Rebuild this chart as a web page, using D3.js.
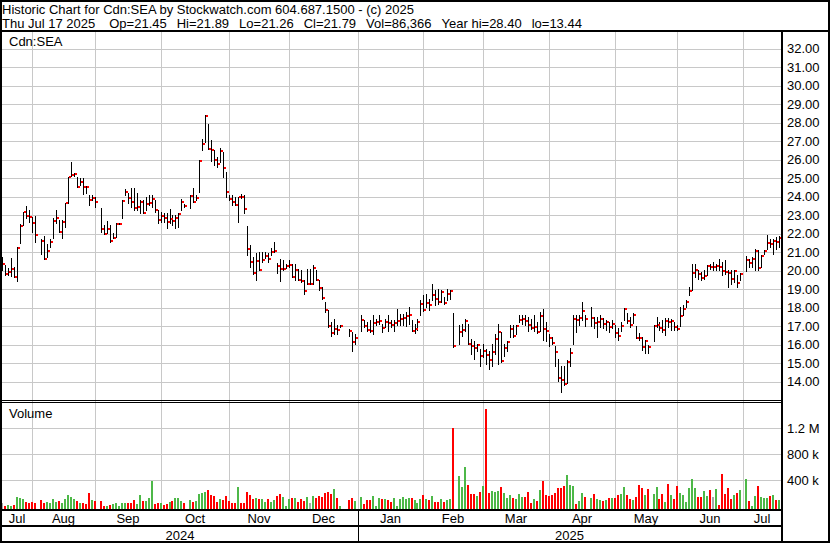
<!DOCTYPE html>
<html>
<head>
<meta charset="utf-8">
<script src="https://cdn.jsdelivr.net/npm/d3@7"></script>
<style>
  body { margin: 0; background: #fff; }
  svg { display: block; font-family: "Liberation Sans", Arial, sans-serif; }
</style>
</head>
<body>
<svg id="chart" width="830" height="543"></svg>
<script>
// ---- data (one slot per weekday, Jul 18 2024 .. Jul 17 2025, null = no trade) ----
const symbol = "Cdn:SEA";
const lastDate = "Thu Jul 17 2025";
const lastOpen = 21.45;

const hi = [
  20.77, 20.32, 20.14, 20.68, 20.23, 21.31, 22.53, 23.20, 23.50, 23.29,
  22.93, 22.96, null, 21.70, 21.88, 21.45, 21.70, 22.84, 23.29, 22.75,
  22.75, 23.68, 25.05, 25.88, 25.31, 25.05, 25.00, 25.00, 24.59, 24.10,
  24.10, 24.01, null, 23.40, 22.48, 22.69, 22.48, 22.03, 22.57, 22.60,
  23.83, 24.41, 24.19, 24.46, 24.46, 24.19, 23.83, 23.83, 24.01, 24.10,
  24.10, 23.83, 23.29, 23.20, 23.11, 23.11, 23.34, 23.02, 23.02, 23.11,
  23.86, 23.61, null, 24.10, 24.46, 24.10, 25.99, 27.11, 28.40, 27.94,
  27.07, 26.53, 26.17, 26.62, 26.44, 25.36, 24.10, 24.10, 24.01, 24.01,
  24.14, 24.10, 22.42, 21.40, 20.77, 20.95, 21.04, 21.04, 21.04, 20.98,
  21.22, 21.58, 20.41, 20.65, 20.56, 20.38, 20.59, 20.38, 20.38, 20.11,
  20.02, 19.48, 20.11, 20.11, 20.29, 20.05, 19.48, 19.12, 18.31, 17.86,
  17.23, 17.41, 17.05, 17.08, null, null, 16.86, 16.68, 16.56, null,
  17.59, 17.32, 17.23, 17.32, 17.59, 17.41, 17.59, 17.14, 17.41, 17.59,
  17.35, 17.32, 17.95, 17.68, 17.68, 17.77, 18.04, 17.32, 17.14, 17.41,
  18.40, 18.67, 18.76, 18.49, 19.30, 18.94, 19.03, 18.94, 18.58, 19.03,
  18.94, 17.71, null, 17.05, 17.14, 17.41, 17.14, 16.32, 16.23, 16.05,
  15.78, 16.05, 15.78, 15.69, 16.05, 16.59, 17.14, 16.68, 16.05, 16.23,
  17.05, 17.05, 17.05, 17.59, 17.59, 17.59, 17.50, 17.41, 17.59, 17.23,
  17.77, 17.95, 17.23, 16.59, 16.41, 15.96, 15.24, 14.83, 14.83, 15.18,
  15.81, 17.61, 17.61, 17.61, 18.32, 17.61, null, 18.02, 17.52, 17.52,
  17.61, 17.43, 17.34, 17.25, 17.34, 17.07, 16.89, 17.25, 18.00, 17.70,
  17.52, 17.70, 17.01, 16.62, 16.44, 16.26, 15.99, null, 17.07, 17.48,
  17.25, 17.34, 17.43, 17.43, 17.37, 17.25, 17.07, 18.05, 18.14, 18.41,
  19.13, 20.39, 20.39, 20.03, 19.94, 20.03, 20.30, 20.39, 20.48, 20.39,
  20.65, 20.48, 20.60, 20.03, 20.03, 20.03, 19.76, 19.88, null, 20.78,
  20.65, 20.74, 21.19, 21.14, 20.83, 21.10, 21.91, 21.73, 21.73, 21.82,
  21.89
];

const lo = [
  20.05, 19.78, 19.78, 19.72, 19.68, 19.47, 21.52, 22.48, 22.84, 22.66,
  22.12, 21.58, null, 20.91, 20.62, 20.77, 21.31, 21.76, 22.57, 22.12,
  21.76, 22.39, 23.68, 25.13, 25.13, 24.51, 24.64, 24.15, 24.19, 23.56,
  23.83, 23.47, null, 22.12, 22.01, 22.03, 21.58, 21.76, 21.85, 22.53,
  22.87, 24.10, 23.65, 23.47, 23.29, 23.29, 23.11, 23.11, 23.29, 23.56,
  23.47, 23.20, 22.57, 22.66, 22.66, 22.30, 22.57, 22.48, 22.33, 22.35,
  23.29, 23.43, null, 23.38, 23.74, 23.83, 24.28, 26.50, 26.98, 26.58,
  25.95, 25.72, 25.59, 25.90, 25.09, 24.01, 23.83, 23.56, 23.56, 22.66,
  23.95, 23.14, 20.86, 20.23, 19.83, 19.50, 20.05, 20.50, 20.68, 20.50,
  20.86, 21.04, 19.87, 19.44, 20.05, 20.16, 20.20, 19.66, 19.48, 19.48,
  19.39, 18.76, 19.30, 19.26, 19.30, 19.48, 18.94, 18.49, 17.77, 16.95,
  16.50, 16.59, 16.59, 16.95, null, null, 16.50, 15.69, 16.05, null,
  16.77, 16.95, 16.77, 16.68, 16.59, 17.08, 17.14, 16.68, 16.95, 16.77,
  16.95, 16.77, 17.05, 17.05, 17.05, 16.99, 17.14, 16.77, 16.63, 16.81,
  17.59, 17.82, 18.04, 17.86, 18.40, 18.13, 18.22, 18.31, 18.22, 18.40,
  18.49, 15.87, null, 16.05, 16.50, 16.77, 16.05, 15.51, 15.24, 15.69,
  14.88, 15.33, 14.97, 14.70, 14.88, 15.51, 14.97, 15.06, 15.42, 15.69,
  16.41, 16.41, 16.59, 17.23, 17.14, 17.05, 16.77, 16.86, 16.77, 16.63,
  16.77, 16.27, 16.23, 15.96, 16.05, 14.88, 14.07, 13.44, 13.84, 13.93,
  14.83, 16.04, 16.71, 17.07, 17.34, 17.01, null, 17.01, 16.89, 16.40,
  16.98, 16.89, 16.80, 16.71, 16.89, 16.44, 16.26, 16.76, 17.34, 17.16,
  16.98, 17.16, 16.35, 16.26, 15.72, 15.58, 15.58, null, 16.22, 16.94,
  16.80, 16.71, 16.53, 16.98, 16.80, 16.80, 16.80, 17.01, 17.61, 18.05,
  18.68, 18.95, 19.67, 19.58, 19.52, 19.58, 19.76, 20.12, 20.03, 20.03,
  20.06, 19.76, 19.85, 19.13, 19.31, 19.40, 19.13, 19.49, null, 19.99,
  20.21, 20.21, 20.03, 20.06, 20.21, 20.92, 21.19, 21.28, 20.92, 21.19,
  21.26
];

const cl = [
  20.37, 19.85, 19.95, 20.10, 19.68, 21.25, 22.44, 23.20, 22.98, 22.91,
  22.60, 21.95, null, 21.63, 20.66, 21.09, 21.58, 22.71, 22.87, 22.12,
  22.66, 23.68, 25.04, 25.20, 25.25, 24.55, 24.78, 24.55, 24.50, 23.85,
  23.95, 23.74, null, 22.28, 22.01, 22.23, 21.61, 21.79, 22.53, 22.55,
  23.79, 24.23, 23.95, 23.74, 23.38, 23.45, 23.74, 23.14, 23.61, 23.68,
  23.90, 23.29, 22.77, 22.96, 22.86, 22.64, 22.78, 22.69, 22.84, 23.09,
  23.74, 23.50, null, 24.06, 23.74, 23.95, 25.95, 26.84, 28.38, 26.60,
  26.53, 25.99, 25.79, 26.48, 25.58, 24.28, 23.90, 23.74, 23.58, 24.00,
  23.98, 23.36, 21.20, 20.48, 19.90, 20.55, 20.05, 20.59, 20.80, 20.66,
  21.04, 21.09, 20.28, 20.07, 20.11, 20.25, 20.32, 19.66, 20.05, 19.48,
  19.42, 18.88, 19.30, 19.30, 20.14, 19.48, 19.06, 18.52, 17.89, 17.01,
  16.63, 16.86, 16.80, 17.01, null, null, 16.74, 16.13, 16.36, null,
  17.32, 16.99, 16.81, 16.77, 17.17, 17.21, 17.28, 16.90, 17.23, 17.18,
  17.05, 17.17, 17.26, 17.41, 17.46, 17.53, 17.59, 16.77, 16.83, 17.23,
  18.18, 17.86, 18.25, 18.13, 18.67, 18.45, 18.31, 18.83, 18.27, 18.72,
  18.88, 15.96, null, 16.68, 16.81, 17.26, 16.05, 15.95, 15.82, 16.00,
  15.42, 15.66, 15.46, 15.19, 15.60, 16.32, 16.68, 15.12, 15.82, 16.14,
  16.83, 16.45, 17.01, 17.32, 17.40, 17.30, 17.08, 16.90, 16.95, 16.68,
  17.55, 16.83, 16.77, 16.36, 16.09, 15.60, 14.20, 14.09, 13.89, 15.09,
  15.58, 17.37, 17.34, 17.46, 17.84, 17.37, null, 17.46, 17.19, 17.25,
  17.37, 17.10, 17.25, 16.98, 17.12, 16.65, 16.48, 17.01, 17.93, 17.30,
  17.07, 17.61, 16.39, 16.35, 15.90, 16.22, 15.90, null, 17.01, 17.07,
  16.89, 16.80, 17.30, 17.22, 17.30, 16.95, 16.85, 17.55, 17.91, 18.32,
  18.91, 19.88, 20.06, 19.81, 19.61, 19.70, 20.28, 20.20, 20.20, 20.25,
  20.20, 19.99, 19.95, 19.90, 19.58, 19.99, 19.36, 19.81, null, 20.60,
  20.42, 20.62, 21.07, 20.15, 20.78, 21.07, 21.50, 21.43, 21.61, 21.55,
  21.79
];

// volume, thousands of shares
const vol = [
  51, 5, 21, 5, 21, 144, 128, 113, 67, 51,
  67, 51, null, 97, 51, 67, 51, 113, 67, 82,
  51, 113, 174, 144, 113, 82, 51, 51, 36, 205,
  97, 82, null, 82, 5, 5, 21, 36, 51, 5,
  51, 51, 51, 51, 97, 36, 174, 82, 82, 128,
  390, 36, 51, 51, 21, 36, 67, 82, 128, 128,
  82, 51, null, 97, 67, 82, 190, 205, 220, 251,
  174, 159, 67, 113, 97, 159, 82, 51, 51, 297,
  51, 51, 220, 174, 113, 128, 113, 113, 67, 113,
  67, 97, 159, 190, 144, 3, 113, 128, 128, 67,
  113, 82, 144, 51, 159, 128, 159, 144, 205, 220,
  190, 267, 128, 5, null, null, 97, 128, 82, null,
  144, 36, 97, 97, 159, 5, 128, 113, 113, 97,
  67, 128, 3, 113, 144, 113, 128, 128, 97, 51,
  113, 174, 113, 97, 159, 67, 67, 113, 67, 97,
  113, 1205, null, 467, 297, 605, 328, 190, 190, 159,
  220, 313, 1497, 205, 236, 220, 236, 297, 205, 128,
  174, 128, 113, 190, 144, 144, 220, 51, 113, 82,
  251, 390, 174, 159, 174, 205, 282, 282, 313, 482,
  328, 313, 36, 82, 205, 144, null, 128, 190, 113,
  97, 82, 97, 128, 128, 128, 174, 190, 297, 174,
  113, 97, 144, 328, 282, 174, 267, null, 190, 297,
  113, 190, 67, 344, 174, 113, 313, 205, 174, 67,
  282, 420, 282, 144, 144, 236, 159, 251, 144, 267,
  21, 497, 190, 282, 113, 174, 205, 251, null, 420,
  82, 5, 159, 313, 144, 128, 128, 159, 174, 97,
  86.366
];

const monthNames = ["Jul", "Aug", "Sep", "Oct", "Nov", "Dec", "Jan", "Feb", "Mar", "Apr", "May", "Jun", "Jul"];
const monthStarts = [10, 31, 53, 76, 96, 119, 141, 161, 183, 205, 226, 248]; // slot of each month line
const yearNames = ["2024", "2025"];
const yearStart = 119;
const priceTicks = d3.range(14, 33);
const volTicks = [400000, 800000, 1200000];

// ---- layout ----
const W = 830, H = 543;
const plotL = 2, plotR = 781;
const priceTop = 32, priceBot = 400;
const volTop = 403, volBot = 509;
const font = "'Liberation Sans', Arial, sans-serif";
const gridColor = "#c8c8c8";

const svg = d3.select("#chart");
svg.append("rect").attr("width", W).attr("height", H).attr("fill", "#fff");

const last = cl.length - 1;
const x = d3.scaleLinear().domain([0, last]).range([2.2, 779]);
const y = d3.scaleLinear().domain([14, 32]).range([381.8, 48.7]);
const yv = d3.scaleLinear().domain([0, 1200000]).range([506, 428.3]);
const px = (i) => Math.round(x(i));

// ---- grid ----
const grid = svg.append("g").attr("stroke", gridColor).attr("shape-rendering", "crispEdges");
priceTicks.forEach((p) => {
  grid.append("line")
    .attr("x1", plotL).attr("x2", plotR)
    .attr("y1", Math.round(y(p)) + 0.5).attr("y2", Math.round(y(p)) + 0.5);
});
volTicks.forEach((v) => {
  grid.append("line")
    .attr("x1", plotL).attr("x2", plotR)
    .attr("y1", Math.round(yv(v)) + 0.5).attr("y2", Math.round(yv(v)) + 0.5);
});
monthStarts.forEach((s) => {
  grid.append("line")
    .attr("x1", px(s) + 0.5).attr("x2", px(s) + 0.5)
    .attr("y1", priceTop).attr("y2", volBot);
});

// ---- price bars: high-low line with red close tick ----
const idx = d3.range(cl.length).filter((i) => cl[i] != null);

svg.append("g")
  .attr("stroke", "#000")
  .attr("shape-rendering", "crispEdges")
  .selectAll("line")
  .data(idx)
  .join("line")
  .attr("x1", (i) => px(i) + 0.5)
  .attr("x2", (i) => px(i) + 0.5)
  .attr("y1", (i) => Math.round(y(hi[i])))
  .attr("y2", (i) => Math.round(y(lo[i])) + 1);

svg.append("g")
  .attr("fill", "#ff0000")
  .selectAll("rect")
  .data(idx)
  .join("rect")
  .attr("x", (i) => px(i) + 1)
  .attr("y", (i) => Math.round(y(cl[i])) - 1)
  .attr("width", 2)
  .attr("height", 2);

// ---- volume bars coloured by change in close ----
const prevClose = (i) => {
  for (let j = i - 1; j >= 0; j--) if (cl[j] != null) return cl[j];
  return null;
};
const volColor = (i) => {
  const p = prevClose(i);
  if (p == null || p === cl[i]) return "#a8a8a8";
  return cl[i] > p ? "#4db848" : "#ff0000";
};

svg.append("g")
  .attr("shape-rendering", "crispEdges")
  .selectAll("rect")
  .data(idx)
  .join("rect")
  .attr("x", (i) => px(i) - 1)
  .attr("width", 2)
  .attr("y", (i) => Math.round(yv(vol[i] * 1000)))
  .attr("height", (i) => volBot - Math.round(yv(vol[i] * 1000)))
  .attr("fill", (i) => volColor(i));

// ---- frame lines ----
const frame = svg.append("g").attr("stroke", "#000").attr("fill", "none").attr("shape-rendering", "crispEdges");
frame.append("rect").attr("x", 1).attr("y", 1).attr("width", W - 2).attr("height", H - 2).attr("stroke-width", 2);
frame.append("line").attr("x1", 0).attr("x2", W).attr("y1", 31).attr("y2", 31).attr("stroke-width", 2);
frame.append("line").attr("x1", 782).attr("x2", 782).attr("y1", 31).attr("y2", H).attr("stroke-width", 2);
frame.append("line").attr("x1", 0).attr("x2", 782).attr("y1", 400.5).attr("y2", 400.5);
frame.append("line").attr("x1", 0).attr("x2", 782).attr("y1", 402.5).attr("y2", 402.5);
frame.append("line").attr("x1", 0).attr("x2", 782).attr("y1", 510).attr("y2", 510).attr("stroke-width", 2);
frame.append("line").attr("x1", 0).attr("x2", 782).attr("y1", 526).attr("y2", 526).attr("stroke-width", 2);
frame.append("line")
  .attr("x1", px(yearStart) + 0.5).attr("x2", px(yearStart) + 0.5)
  .attr("y1", 510).attr("y2", H).attr("stroke-width", 1.5);

// ---- right axes ----
const priceAxis = d3.axisRight(y).tickValues(priceTicks).tickFormat(d3.format(".2f")).tickSize(0).tickPadding(5);
svg.append("g")
  .attr("transform", "translate(782,0)")
  .call(priceAxis)
  .call((g) => g.select(".domain").remove())
  .attr("font-size", 13).attr("font-family", font)
  .selectAll("text").attr("fill", "#000");

const volAxis = d3.axisRight(yv).tickValues(volTicks)
  .tickFormat((v) => (v >= 1e6 ? v / 1e6 + " M" : v / 1e3 + " k"))
  .tickSize(0).tickPadding(5);
svg.append("g")
  .attr("transform", "translate(782,0)")
  .call(volAxis)
  .call((g) => g.select(".domain").remove())
  .attr("font-size", 13).attr("font-family", font)
  .selectAll("text").attr("fill", "#000");

// ---- month and year labels ----
const bounds = [plotL, ...monthStarts.map((s) => px(s)), plotR];
svg.append("g")
  .attr("font-size", 13).attr("font-family", font).attr("text-anchor", "middle")
  .selectAll("text")
  .data(monthNames)
  .join("text")
  .attr("x", (d, i) => (bounds[i] + bounds[i + 1]) / 2)
  .attr("y", 522.5)
  .text((d) => d);

const yBounds = [plotL, px(yearStart), plotR];
svg.append("g")
  .attr("font-size", 13).attr("font-family", font).attr("text-anchor", "middle")
  .selectAll("text")
  .data(yearNames)
  .join("text")
  .attr("x", (d, i) => (yBounds[i] + yBounds[i + 1]) / 2)
  .attr("y", 539.5)
  .text((d) => d);

// ---- header ----
const f2 = d3.format(".2f");
const header = svg.append("g").attr("font-size", 13).attr("font-family", font).attr("fill", "#000");
header.append("text").attr("x", 2).attr("y", 13.5)
  .text(`Historic Chart for ${symbol} by Stockwatch.com 604.687.1500 - (c) 2025`);

const fields = [
  lastDate,
  `Op=${f2(lastOpen)}`,
  `Hi=${f2(hi[last])}`,
  `Lo=${f2(lo[last])}`,
  `Cl=${f2(cl[last])}`,
  `Vol=${d3.format(",")(Math.round(vol[last] * 1000))}`,
  `Year hi=${f2(d3.max(hi))}`,
  `lo=${f2(d3.min(lo))}`
];
// lay the fields out left to right with a fixed gap
let fx = 2;
fields.forEach((t, i) => {
  const node = header.append("text").attr("x", fx).attr("y", 27.5).text(t);
  fx += node.node().getComputedTextLength() + (i === 0 ? 14 : 10);
});

// panel captions
svg.append("text").attr("x", 9).attr("y", 46).attr("font-size", 13).attr("font-family", font).text(symbol);
svg.append("text").attr("x", 9).attr("y", 418).attr("font-size", 13).attr("font-family", font).text("Volume");
</script>
</body>
</html>
